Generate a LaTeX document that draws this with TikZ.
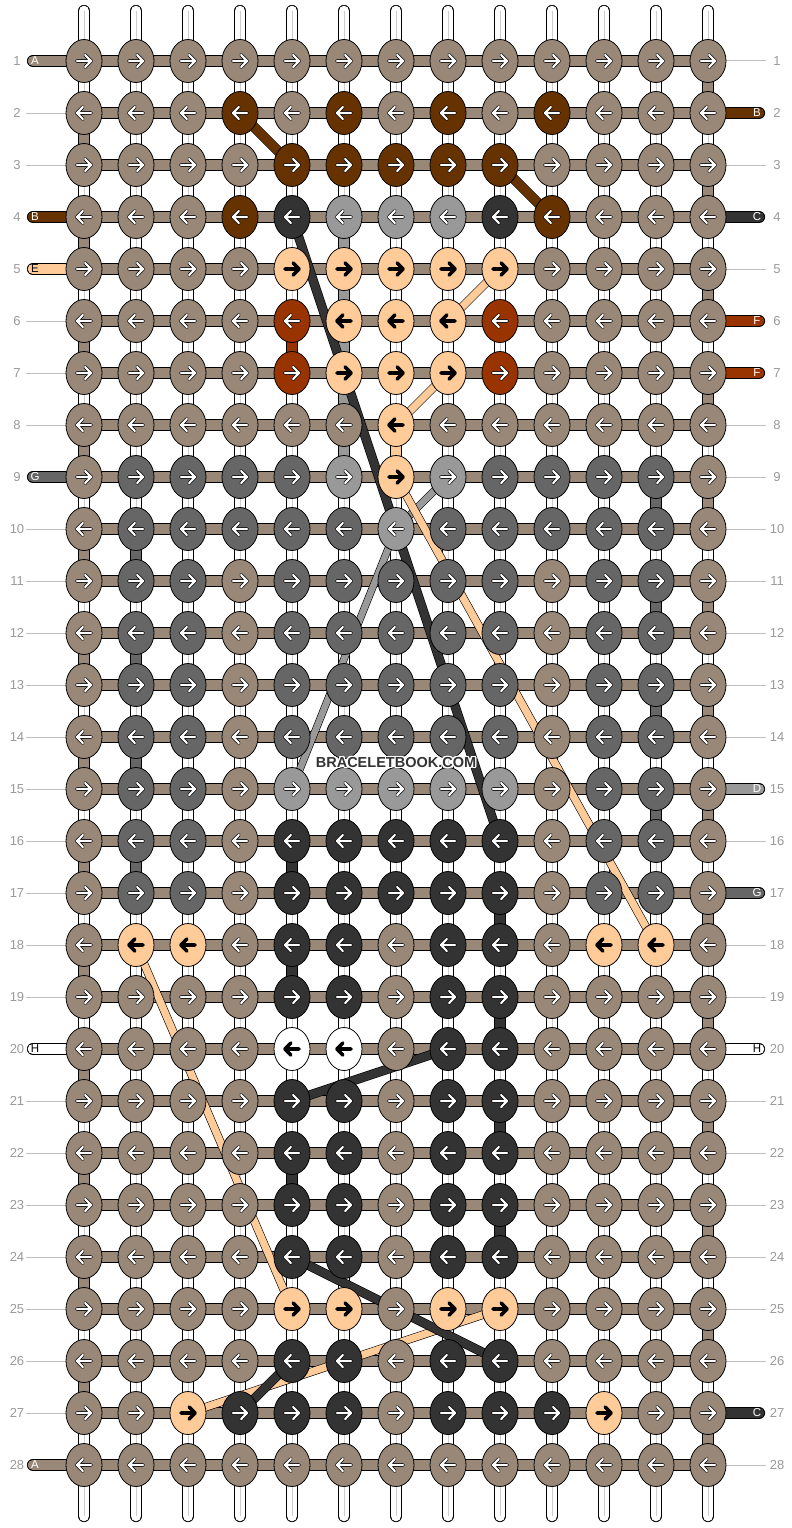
\documentclass[tikz,border=0pt]{standalone}
\usepackage{fontspec}
\setmainfont{Liberation Sans}
\usepackage{contour}
\contourlength{1.2pt}
\usetikzlibrary{shapes.geometric}

\definecolor{strA}{HTML}{998877}
\definecolor{strB}{HTML}{663300}
\definecolor{strC}{HTML}{333333}
\definecolor{strD}{HTML}{999999}
\definecolor{strE}{HTML}{FFCC99}
\definecolor{strF}{HTML}{993300}
\definecolor{strG}{HTML}{666666}
\definecolor{strH}{HTML}{FFFFFF}
% colour of arrows and end letters on each strand
\colorlet{arrA}{white}
\colorlet{arrB}{white}
\colorlet{arrC}{white}
\colorlet{arrD}{white}
\colorlet{arrE}{black}
\colorlet{arrF}{white}
\colorlet{arrG}{white}
\colorlet{arrH}{black}
\definecolor{numgray}{HTML}{999999}

\begin{document}
\begin{tikzpicture}[x=1pt, y=-1pt, % one unit is one pixel, rows count downwards
	knotnode/.style={ellipse, draw=black, line width=0.8pt, minimum width=36pt, minimum height=43pt, inner sep=0pt},
	tube/.style={draw=black, line width=0.8pt, double=#1, double distance=10.6pt},
	diag/.style={draw=black, line width=0.6pt, double=#1},
	arrowline/.style={line cap=round, line join=round},
	rownum/.style={text=numgray, font=\fontsize{13}{15}\selectfont},
	endlabel/.style={font=\fontsize{11.5}{13}\selectfont, inner sep=0pt},
	guideline/.style={draw=black!25, line width=1pt}]

	\fill[white] (0,0) rectangle (792,1528);
	\useasboundingbox (0,0) rectangle (792,1528);

	% knot centres
	\foreach \r in {1,...,28}
		\foreach \c in {1,...,13}
			\coordinate (p-\r-\c) at ({32+52*\c},{9+52*\r});

	% white warp strands
	\foreach \c in {1,...,13} {
		\coordinate (t-\c) at ({32+52*\c},11);
		\coordinate (u-\c) at ({32+52*\c},1516);
		\draw[tube=white, line cap=round] (t-\c) -- (u-\c);
		\draw[black!20, line width=0.6pt] (t-\c) -- (u-\c);
	}

	% coloured pieces between rows, edges first
	\foreach \r in {2,4,...,26} {
		\pgfmathtruncatemacro\s{\r+1}
		\draw[tube=strA] (p-\r-1) -- (p-\s-1);
	}
	\foreach \r in {1,3,...,27} {
		\pgfmathtruncatemacro\s{\r+1}
		\draw[tube=strA] (p-\r-13) -- (p-\s-13);
	}
	\foreach \c/\r/\k in {6/4/D,6/5/D,6/6/D,6/7/D,6/8/D,5/6/F,7/8/E,
			12/9/G,12/11/G,12/13/G,12/15/G,2/10/G,2/12/G,2/14/G,2/16/G,
			5/16/C,5/18/C,5/22/C,9/17/C,9/19/C,9/21/C,9/23/C} {
		\pgfmathtruncatemacro\s{\r+1}
		\draw[tube=str\k] (p-\r-\c) -- (p-\s-\c);
	}

	% rows
	\foreach \r in {1,...,28}
		\draw[tube=strA] (p-\r-1) -- (p-\r-13);

	% guide lines to the row numbers
	\foreach \r in {2,3,6,7,8,10,11,12,13,14,15,16,17,18,19,21,22,23,24,25,26,27} {
		\coordinate (gl-\r) at (26,{9+52*\r});
		\draw[guideline] (gl-\r) -- (p-\r-1);
	}
	\foreach \r in {1,3,5,8,9,10,11,12,13,14,16,18,19,21,22,23,24,25,26,28} {
		\coordinate (gr-\r) at (766,{9+52*\r});
		\draw[guideline] (p-\r-13) -- (gr-\r);
	}

	% strand ends
	\foreach \r/\k in {1/A,4/B,5/E,9/G,20/H,28/A} {
		\coordinate (sl-\r) at (33,{9+52*\r});
		\draw[tube=str\k, line cap=round] (sl-\r) -- (p-\r-1);
		\node[endlabel, text=arr\k] (el-\r) at (35,{9+52*\r}) {\k};
	}
	\foreach \r/\k in {2/B,4/C,6/F,7/F,15/D,17/G,20/H,27/C} {
		\coordinate (sr-\r) at (759,{9+52*\r});
		\draw[tube=str\k, line cap=round] (p-\r-13) -- (sr-\r);
		\node[endlabel, text=arr\k] (er-\r) at (757,{9+52*\r}) {\k};
	}

	% strands moving behind the knots
	\foreach \a/\b/\k/\w in {2-4/3-5/B/9, 3-9/4-10/B/9,
			9-8/10-7/D/6.4, 10-7/15-5/D/6.4,
			5-9/6-8/E/7.2, 7-8/8-7/E/7.2, 9-7/18-12/E/7.2, 18-2/25-5/E/7.2, 25-9/27-3/E/7.2,
			4-5/16-9/C/8.2, 20-8/21-5/C/8.2, 24-5/26-9/C/8.2, 26-5/27-4/C/8.2}
		\draw[diag=str\k, double distance=\w pt] (p-\a) -- (p-\b);

	% knots
	\foreach \r/\row in {
			1/{A,A,A,A,A,A,A,A,A,A,A,A,A},
			2/{A,A,A,B,A,B,A,B,A,B,A,A,A},
			3/{A,A,A,A,B,B,B,B,B,A,A,A,A},
			4/{A,A,A,B,C,D,D,D,C,B,A,A,A},
			5/{A,A,A,A,E,E,E,E,E,A,A,A,A},
			6/{A,A,A,A,F,E,E,E,F,A,A,A,A},
			7/{A,A,A,A,F,E,E,E,F,A,A,A,A},
			8/{A,A,A,A,A,A,E,A,A,A,A,A,A},
			9/{A,G,G,G,G,D,E,D,G,G,G,G,A},
			10/{A,G,G,G,G,G,D,G,G,G,G,G,A},
			11/{A,G,G,A,G,G,G,G,G,A,G,G,A},
			12/{A,G,G,A,G,G,G,G,G,A,G,G,A},
			13/{A,G,G,A,G,G,G,G,G,A,G,G,A},
			14/{A,G,G,A,G,G,G,G,G,A,G,G,A},
			15/{A,G,G,A,D,D,D,D,D,A,G,G,A},
			16/{A,G,G,A,C,C,C,C,C,A,G,G,A},
			17/{A,G,G,A,C,C,C,C,C,A,G,G,A},
			18/{A,E,E,A,C,C,A,C,C,A,E,E,A},
			19/{A,A,A,A,C,C,A,C,C,A,A,A,A},
			20/{A,A,A,A,H,H,A,C,C,A,A,A,A},
			21/{A,A,A,A,C,C,A,C,C,A,A,A,A},
			22/{A,A,A,A,C,C,A,C,C,A,A,A,A},
			23/{A,A,A,A,C,C,A,C,C,A,A,A,A},
			24/{A,A,A,A,C,C,A,C,C,A,A,A,A},
			25/{A,A,A,A,E,E,A,E,E,A,A,A,A},
			26/{A,A,A,A,C,C,A,C,C,A,A,A,A},
			27/{A,A,E,C,C,C,A,C,C,C,E,A,A},
			28/{A,A,A,A,A,A,A,A,A,A,A,A,A}} {
		\pgfmathtruncatemacro\dir{2*mod(\r,2)-1}
		\foreach \k [count=\c] in \row {
			\node[knotnode, fill=str\k] (k-\r-\c) at (p-\r-\c) {};
			\draw[arrowline, black, line width=3.6pt, shift={(p-\r-\c)}, xscale=\dir]
				(-7,0) -- (7,0) (1.2,-6) -- (7,0) -- (1.2,6);
			\draw[arrowline, arr\k, line width=2.2pt, shift={(p-\r-\c)}, xscale=\dir]
				(-7,0) -- (7,0) (1.2,-6) -- (7,0) -- (1.2,6);
		}
	}

	% row numbers
	\foreach \r in {1,...,28} {
		\node[rownum] (nl-\r) at (17,{9+52*\r}) {\r};
		\node[rownum] (nr-\r) at (777,{9+52*\r}) {\r};
	}

	\node[text=black!80, font=\fontsize{14.5}{16}\selectfont\bfseries] (mark) at (396,763) {\contour{white}{BRACELETBOOK.COM}};
\end{tikzpicture}
\end{document}
